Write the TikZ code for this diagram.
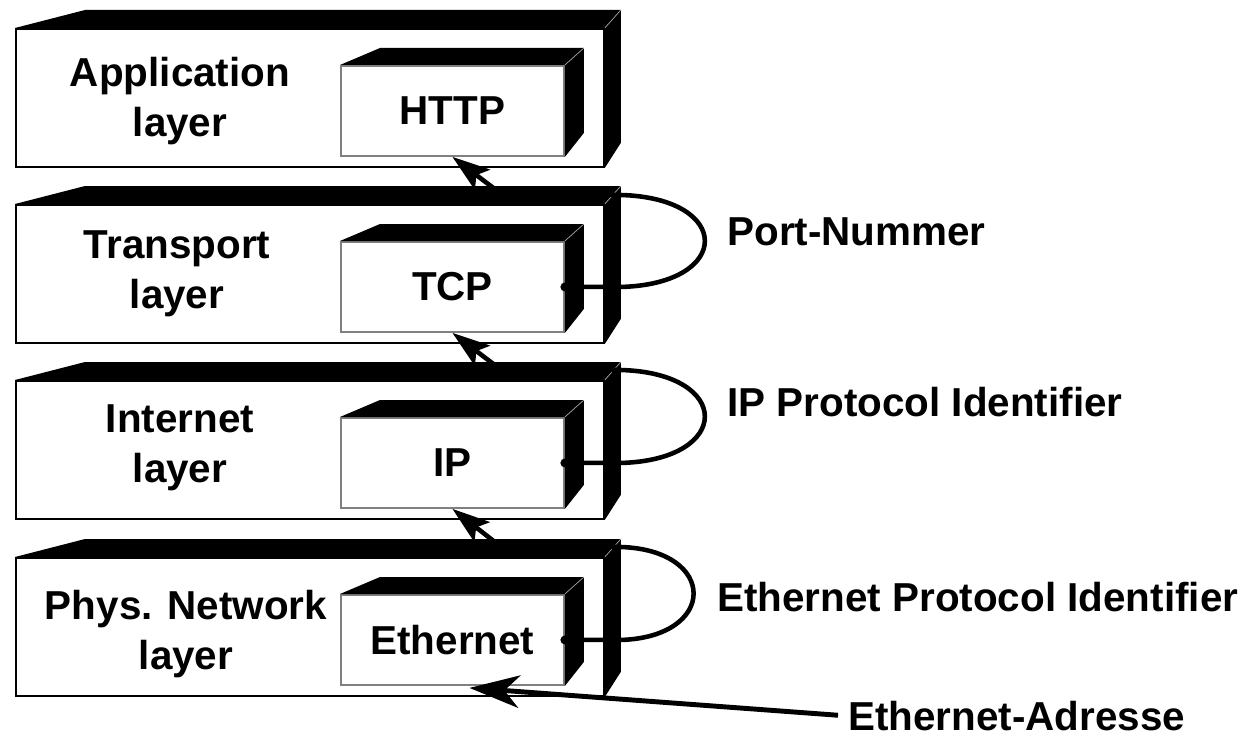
\documentclass[tikz,border=0pt]{standalone}
\usepackage{fontspec}
\setmainfont{Liberation Sans}
\usetikzlibrary{arrows.meta,calc,positioning}

% black top and side faces of a box node
\newcommand{\solidbox}[5]{%
  \fill (#1.north west) -- ++(#2,-#3) -- ($(#1.north east)+(#4,-#3)$)
    -- ($(#1.south east)+(#4,-#5)$) -- (#1.south east) -- (#1.north east) -- cycle;
  \draw[gray!70, thin] (#1.north east) -- ++(#4,-#3);
}

\begin{document}
\begin{tikzpicture}[x=0.02cm, y=-0.02cm,
    every node/.style={font=\fontsize{23}{28.5}\selectfont\bfseries, inner sep=0pt},
    layer/.style={draw=black, line width=1.1pt, fill=white, minimum width=11.76cm, minimum height=2.76cm, anchor=north west},
    proto/.style={draw=gray, line width=1.1pt, fill=white, minimum width=4.46cm, minimum height=1.8cm, anchor=north west},
    layertext/.style={align=center},
    link/.style={line width=2.6pt, -{Stealth[length=0.75cm, width=0.5cm, inset=0.15cm]}},
    addr/.style={line width=2.8pt, -{Stealth[length=1cm, width=0.65cm, inset=0.3cm]}}]
    \useasboundingbox (0,0) rectangle (1254,740);

    % Application layer
    \node[layer] (app) at (15,28) {};
    \solidbox{app}{70}{18}{16}{25}
    \node[proto] (http) at (340,65) {HTTP};
    \solidbox{http}{40}{17}{19}{24}
    \node[layertext] (applbl) at (180,101) {Application\\layer};

    % Transport layer
    \node[layer] (tr) at (15,204) {};
    \solidbox{tr}{70}{18}{16}{25}
    \node[proto] (tcp) at (340,241) {TCP};
    \solidbox{tcp}{40}{17}{19}{24}
    \node[layertext] (trlbl) at (177,274) {Transport\\layer};

    % Internet layer
    \node[layer] (inet) at (15,380) {};
    \solidbox{inet}{70}{18}{16}{25}
    \node[proto] (ip) at (340,417) {IP};
    \solidbox{ip}{40}{17}{19}{24}
    \node[layertext] (inetlbl) at (180,448) {Internet\\layer};

    % Phys. network layer
    \node[layer] (phys) at (15,557) {};
    \solidbox{phys}{70}{18}{16}{25}
    \node[proto] (eth) at (340,594) {Ethernet};
    \solidbox{eth}{40}{17}{19}{24}
    \node[layertext] (physlbl) at (186,634) {Phys. Network\\layer};

    % Labels
    \node[anchor=west] (port) at (727,232) {Port-Nummer};
    \node[anchor=west] (ipid) at (727,402) {IP Protocol Identifier};
    \node[anchor=west] (ethid) at (717,597) {Ethernet Protocol Identifier};
    \node[anchor=west] (adr) at (848,716) {Ethernet-Adresse};

    % Demultiplexing loops
    \fill (tcp.east) circle (0.09cm);
    \draw[link] (tcp.east) -- ++(56,0) .. controls +(112,-3) and +(112,3) .. ($(tr.north east)+(16,-9)$)
        -- ($(tr.north west)+(485,-11)$) -- (http.south);
    \fill (ip.east) circle (0.09cm);
    \draw[link] (ip.east) -- ++(56,0) .. controls +(112,-3) and +(112,3) .. ($(inet.north east)+(16,-10)$)
        -- ($(inet.north west)+(485,-11)$) -- (tcp.south);
    \fill (eth.east) circle (0.09cm);
    \draw[link] (eth.east) -- ++(56,0) .. controls +(97,-3) and +(97,3) .. ($(phys.north east)+(16,-10)$)
        -- ($(phys.north west)+(485,-11)$) -- (ip.south);

    % Address arrow
    \draw[addr, shorten <=0.2cm] (adr.west) -- ($(eth.south)+(17,2)$);
\end{tikzpicture}
\end{document}
